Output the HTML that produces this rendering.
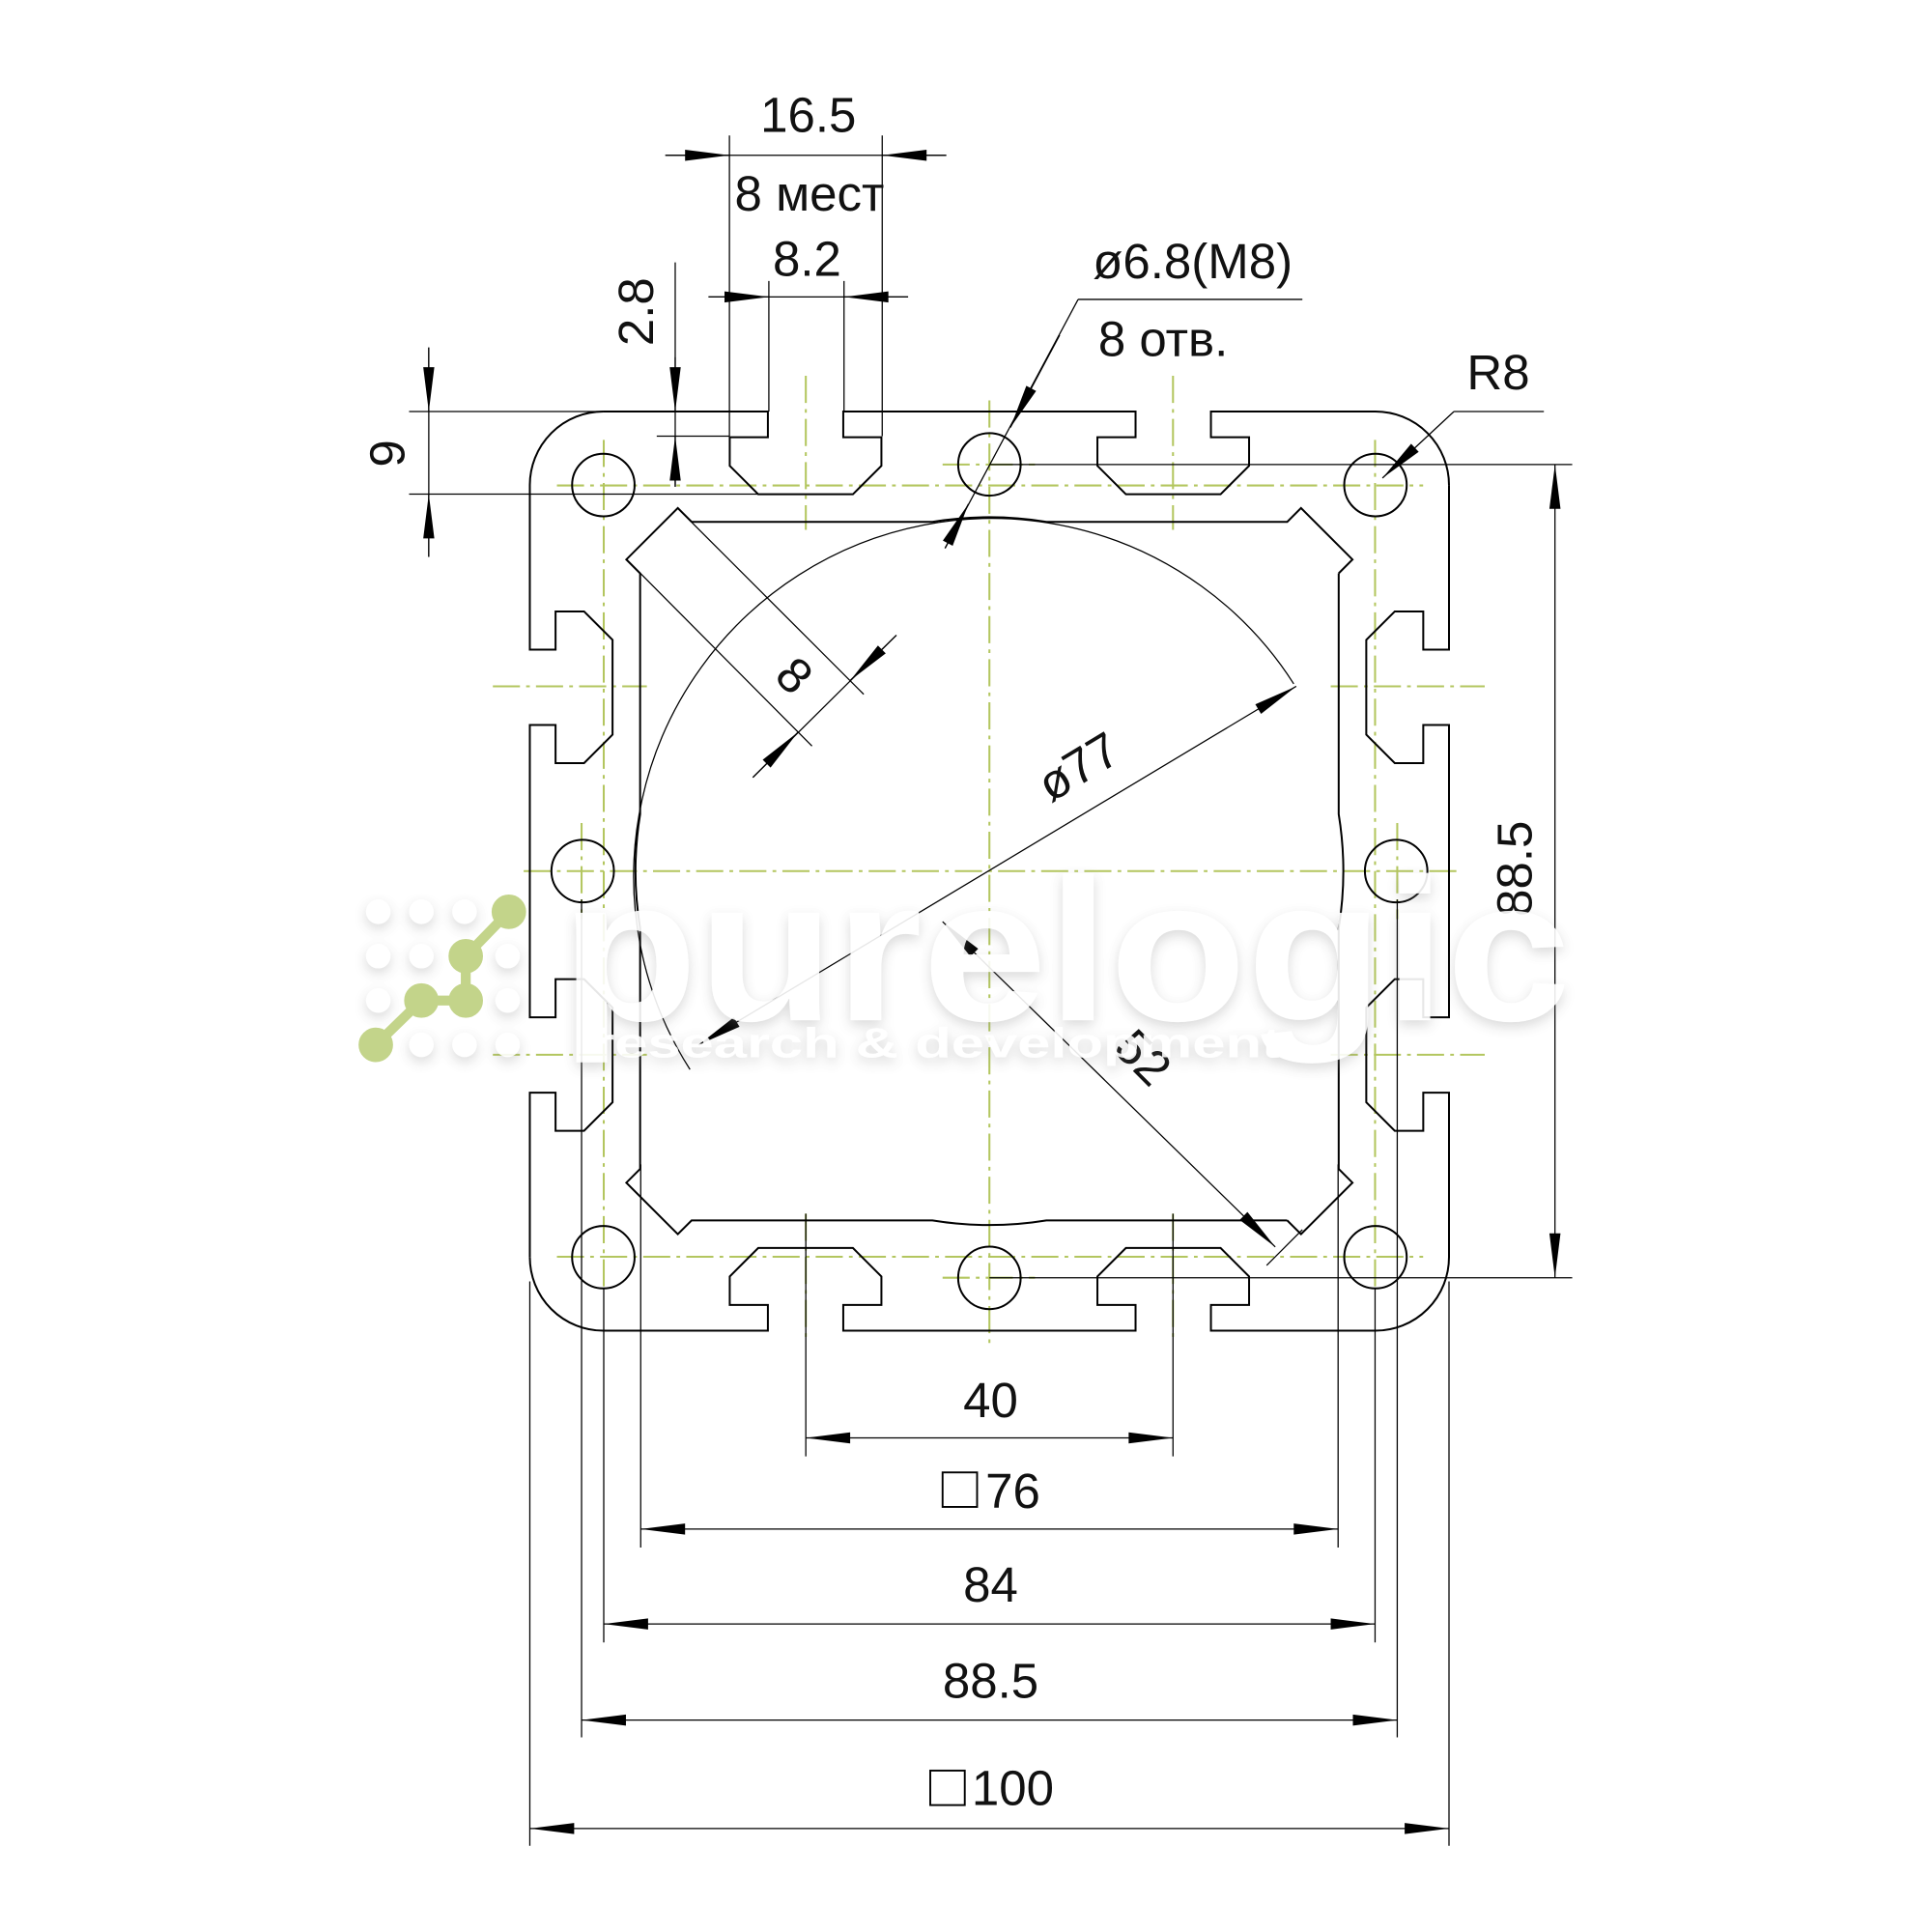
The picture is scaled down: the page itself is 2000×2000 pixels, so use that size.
<!DOCTYPE html>
<html><head><meta charset="utf-8"><style>
html,body{margin:0;padding:0;background:#fff}
svg{display:block}
text{font-family:"Liberation Sans",sans-serif;fill:#111}
</style></head><body>
<svg width="2000" height="2000" viewBox="0 0 1568 1568" xmlns="http://www.w3.org/2000/svg">
<defs>
<marker id="a" markerUnits="userSpaceOnUse" markerWidth="40" markerHeight="12" viewBox="-36 -6 37 12" refX="0" refY="0" orient="auto-start-reverse">
<path d="M0,0 L-36,-4.5 L-36,4.5 z" fill="#000"/>
</marker>
<filter id="sh" x="-10%" y="-30%" width="120%" height="160%">
<feDropShadow dx="0" dy="4" stdDeviation="5" flood-color="#888" flood-opacity="0.35"/>
</filter>
</defs>

<!-- green center lines -->
<g stroke="#b3c65f" stroke-width="1.6" stroke-dasharray="22,5,3,5" fill="none">
<line x1="452" y1="394" x2="1155" y2="394"/>
<line x1="452" y1="1020" x2="1155" y2="1020"/>
<line x1="425" y1="707" x2="1185" y2="707"/>
<line x1="490" y1="357" x2="490" y2="1045"/>
<line x1="1116" y1="357" x2="1116" y2="1045"/>
<line x1="803" y1="325" x2="803" y2="1090"/>
<line x1="654" y1="305" x2="654" y2="430"/>
<line x1="952" y1="305" x2="952" y2="430"/>
<line x1="654" y1="985" x2="654" y2="1085"/>
<line x1="952" y1="985" x2="952" y2="1085"/>
<line x1="400" y1="557" x2="525" y2="557"/>
<line x1="400" y1="856" x2="525" y2="856"/>
<line x1="1080" y1="557" x2="1205" y2="557"/>
<line x1="1080" y1="856" x2="1205" y2="856"/>
<line x1="765" y1="377" x2="840" y2="377"/>
<line x1="765" y1="1037" x2="840" y2="1037"/>
<line x1="472" y1="668" x2="472" y2="746"/>
<line x1="1134" y1="668" x2="1134" y2="746"/>
</g>

<!-- profile -->
<g transform="translate(803,707) scale(7.46)" fill="none" stroke="#000" stroke-width="2" stroke-linejoin="miter">
<g id="side">
<path vector-effect="non-scaling-stroke" d="M-42,-50 L-24.1,-50 L-24.1,-47.2 L-28.25,-47.2 L-28.25,-44.1 L-25.15,-41 L-14.85,-41 L-11.75,-44.1 L-11.75,-47.2 L-15.9,-47.2 L-15.9,-50 L15.9,-50 L15.9,-47.2 L11.75,-47.2 L11.75,-44.1 L14.85,-41 L25.15,-41 L28.25,-44.1 L28.25,-47.2 L24.1,-47.2 L24.1,-50 L42,-50 A8,8 0 0 1 50,-42"/>
<path vector-effect="non-scaling-stroke" d="M-32.4,-38 L-6.2,-38 A38.5,38.5 0 0 1 6.2,-38 L32.4,-38 L33.9,-39.5 L39.5,-33.9 L38,-32.4"/>
<circle vector-effect="non-scaling-stroke" cx="42" cy="-42" r="3.4"/>
<circle vector-effect="non-scaling-stroke" cx="0" cy="-44.25" r="3.4"/>
</g>
<use href="#side" transform="rotate(90)"/>
<use href="#side" transform="rotate(180)"/>
<use href="#side" transform="rotate(270)"/>
</g>

<!-- thin lines -->
<g stroke="#000" stroke-width="1" fill="none">
<!-- big circle arc ø77 -->
<path d="M1050,555 A287,287 0 1 0 560,868"/>
<!-- ø77 dim -->
<line x1="567" y1="848" x2="1052" y2="557" marker-start="url(#a)" marker-end="url(#a)"/>
<!-- 52 dim -->
<line x1="765" y1="748" x2="1035" y2="1012" marker-start="url(#a)" marker-end="url(#a)"/>
<line x1="1028" y1="1027" x2="1057" y2="998"/>
<!-- 8 dim ext & dim -->
<line x1="550" y1="412.5" x2="701" y2="563.5"/>
<line x1="508.5" y1="454" x2="659" y2="605.5"/>
<line x1="611" y1="631" x2="727.5" y2="515.5"/>
<line x1="611" y1="631" x2="647.6" y2="594.3" marker-end="url(#a)"/>
<line x1="727.5" y1="515.5" x2="690" y2="552.3" marker-end="url(#a)"/>
<!-- ø6.8 leader -->
<line x1="875" y1="243" x2="1057" y2="243"/>
<line x1="875" y1="243" x2="767" y2="445"/>
<line x1="860" y1="272" x2="820" y2="347" marker-end="url(#a)"/>
<line x1="767" y1="445" x2="786" y2="409" marker-end="url(#a)"/>
<!-- R8 leader -->
<line x1="1180" y1="334" x2="1253" y2="334"/>
<line x1="1180" y1="334" x2="1122" y2="388" marker-end="url(#a)"/>

<!-- 16.5 -->
<line x1="592" y1="110" x2="592" y2="354"/>
<line x1="716" y1="110" x2="716" y2="354"/>
<line x1="540" y1="126" x2="768" y2="126"/>
<line x1="540" y1="126" x2="592" y2="126" marker-end="url(#a)"/>
<line x1="768" y1="126" x2="716" y2="126" marker-end="url(#a)"/>
<!-- 8.2 -->
<line x1="624" y1="228" x2="624" y2="334"/>
<line x1="685" y1="228" x2="685" y2="334"/>
<line x1="575" y1="241" x2="737" y2="241"/>
<line x1="575" y1="241" x2="624" y2="241" marker-end="url(#a)"/>
<line x1="737" y1="241" x2="685" y2="241" marker-end="url(#a)"/>
<!-- 2.8 -->
<line x1="548" y1="213" x2="548" y2="395"/>
<line x1="548" y1="290" x2="548" y2="334" marker-end="url(#a)"/>
<line x1="548" y1="395" x2="548" y2="354" marker-end="url(#a)"/>
<line x1="533" y1="354" x2="592" y2="354"/>
<!-- 9 -->
<line x1="348" y1="282" x2="348" y2="452"/>
<line x1="348" y1="282" x2="348" y2="334" marker-end="url(#a)"/>
<line x1="348" y1="452" x2="348" y2="401" marker-end="url(#a)"/>
<line x1="332" y1="334" x2="490" y2="334"/>
<line x1="332" y1="401" x2="616" y2="401"/>
<!-- 88.5 vertical -->
<line x1="803" y1="377" x2="1276" y2="377"/>
<line x1="803" y1="1037" x2="1276" y2="1037"/>
<line x1="1262" y1="377" x2="1262" y2="1037" marker-start="url(#a)" marker-end="url(#a)"/>
<!-- bottom dims -->
<line x1="654" y1="985" x2="654" y2="1182"/>
<line x1="952" y1="985" x2="952" y2="1182"/>
<line x1="654" y1="1167" x2="952" y2="1167" marker-start="url(#a)" marker-end="url(#a)"/>
<line x1="520" y1="945" x2="520" y2="1256"/>
<line x1="1086" y1="945" x2="1086" y2="1256"/>
<line x1="520" y1="1241" x2="1086" y2="1241" marker-start="url(#a)" marker-end="url(#a)"/>
<line x1="490" y1="1045" x2="490" y2="1333"/>
<line x1="1116" y1="1045" x2="1116" y2="1333"/>
<line x1="490" y1="1318" x2="1116" y2="1318" marker-start="url(#a)" marker-end="url(#a)"/>
<line x1="472" y1="730" x2="472" y2="1410"/>
<line x1="1134" y1="730" x2="1134" y2="1410"/>
<line x1="472" y1="1396" x2="1134" y2="1396" marker-start="url(#a)" marker-end="url(#a)"/>
<line x1="430" y1="1040" x2="430" y2="1498"/>
<line x1="1176" y1="1040" x2="1176" y2="1498"/>
<line x1="430" y1="1484" x2="1176" y2="1484" marker-start="url(#a)" marker-end="url(#a)"/>
</g>

<!-- labels -->
<g font-size="40">
<text x="656" y="107" text-anchor="middle">16.5</text>
<text x="657" y="171" text-anchor="middle">8 мест</text>
<text x="655" y="224" text-anchor="middle">8.2</text>
<text x="968" y="226" text-anchor="middle">ø6.8(M8)</text>
<text x="944" y="289" text-anchor="middle">8 отв.</text>
<text x="1216" y="316" text-anchor="middle">R8</text>
<text transform="translate(530,253) rotate(-90)" text-anchor="middle">2.8</text>
<text transform="translate(328,368) rotate(-90)" text-anchor="middle">9</text>
<text transform="translate(1243,705) rotate(-90)" text-anchor="middle">88.5</text>
<text transform="translate(645,548) rotate(45)" text-anchor="middle" dy="14">8</text>
<text transform="translate(875,622) rotate(-31)" text-anchor="middle" dy="14">ø77</text>
<text transform="translate(928,858) rotate(45)" text-anchor="middle" dy="14">52</text>
<text x="804" y="1150" text-anchor="middle">40</text>
<text x="822" y="1224" text-anchor="middle">76</text>
<text x="804" y="1300" text-anchor="middle">84</text>
<text x="804" y="1378" text-anchor="middle">88.5</text>
<text x="822" y="1465" text-anchor="middle">100</text>
</g>
<rect x="765" y="1195" width="28" height="28" fill="none" stroke="#000" stroke-width="1.5"/>
<rect x="755" y="1437" width="28" height="28" fill="none" stroke="#000" stroke-width="1.5"/>

<!-- watermark -->
<g filter="url(#sh)" opacity="0.9">
<text x="455" y="828" font-size="165" font-weight="bold" fill="#fff" style="fill:#fff" textLength="820" lengthAdjust="spacingAndGlyphs">purelogic</text>
<text x="480" y="858" font-size="34" font-weight="bold" fill="#fff" style="fill:#fff" textLength="560" lengthAdjust="spacingAndGlyphs">research &amp; development</text>
<g fill="#fff">
<circle cx="307" cy="740" r="10"/><circle cx="342" cy="740" r="10"/><circle cx="377" cy="740" r="10"/>
<circle cx="307" cy="776" r="10"/><circle cx="342" cy="776" r="10"/><circle cx="412" cy="776" r="10"/>
<circle cx="307" cy="812" r="10"/><circle cx="412" cy="812" r="10"/>
<circle cx="342" cy="848" r="10"/><circle cx="377" cy="848" r="10"/><circle cx="412" cy="848" r="10"/>
</g>
</g>
<g stroke="#c3d48a" stroke-width="8" fill="#c3d48a">
<polyline points="305,848 342,812 378,812 378,776 413,740" fill="none"/>
<circle cx="305" cy="848" r="10"/><circle cx="342" cy="812" r="10"/><circle cx="378" cy="812" r="10"/><circle cx="378" cy="776" r="10"/><circle cx="413" cy="740" r="10"/>
</g>
</svg>
</body></html>
